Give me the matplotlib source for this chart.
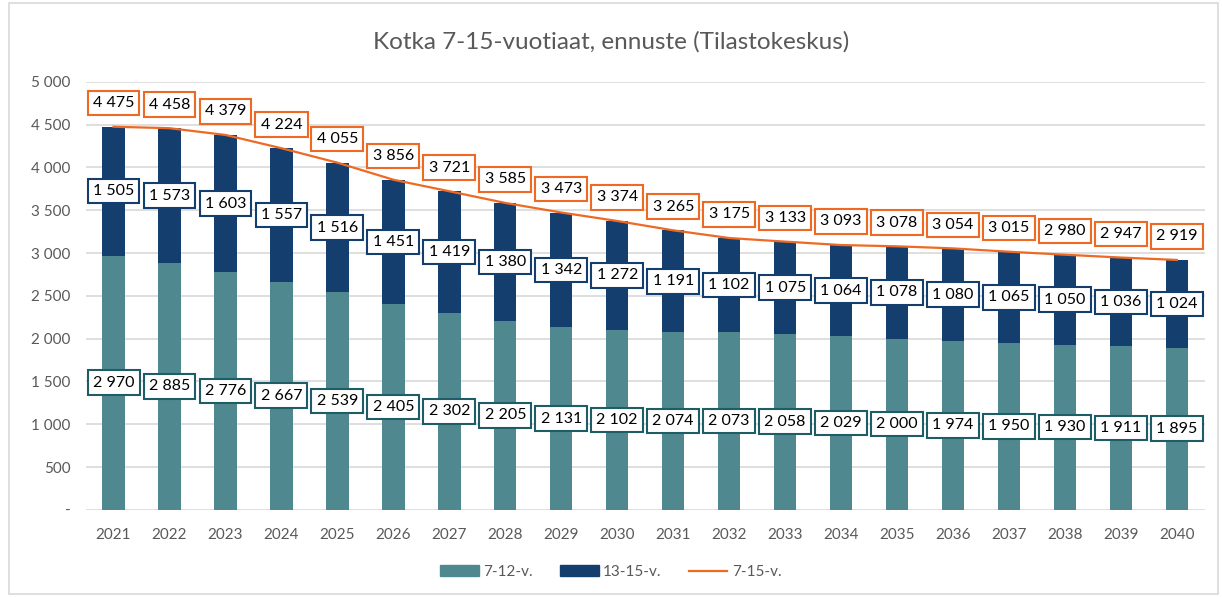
import matplotlib.pyplot as plt
from matplotlib.lines import Line2D
from matplotlib.patches import Patch, Rectangle
from matplotlib.ticker import FuncFormatter

plt.rcParams['font.family'] = ['Lato', 'DejaVu Sans']

vuodet = [str(v) for v in range(2021, 2041)]
ika_7_12 = [2970, 2885, 2776, 2667, 2539, 2405, 2302, 2205, 2131, 2102,
            2074, 2073, 2058, 2029, 2000, 1974, 1950, 1930, 1911, 1895]
ika_13_15 = [1505, 1573, 1603, 1557, 1516, 1451, 1419, 1380, 1342, 1272,
             1191, 1102, 1075, 1064, 1078, 1080, 1065, 1050, 1036, 1024]
ika_7_15 = [4475, 4458, 4379, 4224, 4055, 3856, 3721, 3585, 3473, 3374,
            3265, 3175, 3133, 3093, 3078, 3054, 3015, 2980, 2947, 2919]

teal = '#50888F'
navy = '#143E6E'
oranssi = '#EE6A24'
harmaa = '#595959'

fig = plt.figure(figsize=(12.22, 5.97), dpi=100)
ax = fig.add_axes([0.070, 0.146, 0.916, 0.717])

# reunus koko kuvan ympari
fig.patches.append(Rectangle((0.007, 0.005), 0.99, 0.99, transform=fig.transFigure,
                             fill=False, edgecolor='#d9d9d9', linewidth=1.2))

x = list(range(len(vuodet)))
ax.bar(x, ika_7_12, width=0.4, color=teal, zorder=2)
ax.bar(x, ika_13_15, width=0.4, bottom=ika_7_12, color=navy, zorder=2)
ax.plot(x, ika_7_15, color=oranssi, linewidth=1.6, zorder=3)


def fmt(v):
    return f"{v:,}".replace(',', ' ')


laatikko = dict(boxstyle='square,pad=0.33', fc='white', lw=1.5)
for i in x:
    ala = ika_7_12[i]
    yla = ika_13_15[i]
    ax.text(i, ala / 2, fmt(ala), ha='center', va='center', fontsize=11.5, zorder=5,
            bbox=dict(laatikko, ec='#1E5C66'))
    ax.text(i, ala + yla / 2, fmt(yla), ha='center', va='center', fontsize=11.5, zorder=5,
            bbox=dict(laatikko, ec=navy))
    ax.annotate(fmt(ika_7_15[i]), (i, ika_7_15[i]), xytext=(0, 17), textcoords='offset points',
                ha='center', va='center', fontsize=11.5, zorder=5,
                bbox=dict(laatikko, ec=oranssi))

ax.set_xlim(-0.5, len(vuodet) - 0.5)
ax.set_ylim(0, 5000)
ax.set_yticks(range(0, 5001, 500))
ax.yaxis.set_major_formatter(FuncFormatter(lambda v, p: '-' if v == 0 else fmt(int(v))))
ax.set_xticks(x)
ax.set_xticklabels(vuodet)
ax.tick_params(axis='both', length=0, labelsize=11, labelcolor=harmaa)
ax.tick_params(axis='y', pad=11)
ax.tick_params(axis='x', pad=13)
ax.grid(axis='y', color='#d9d9d9', linewidth=1.2, zorder=0)
ax.set_axisbelow(True)
for s in ax.spines.values():
    s.set_visible(False)

fig.text(0.5, 0.93, 'Kotka 7-15-vuotiaat, ennuste (Tilastokeskus)', ha='center', va='center',
         fontsize=17.5, color=harmaa)

kahvat = [Patch(color=teal, label='7-12-v.'),
          Patch(color=navy, label='13-15-v.'),
          Line2D([], [], color=oranssi, linewidth=1.6, label='7-15-v.')]
fig.legend(handles=kahvat, loc='center', bbox_to_anchor=(0.5, 0.042), ncol=3, frameon=False,
           fontsize=11, labelcolor=harmaa, handlelength=2.5, handleheight=0.7,
           columnspacing=1.8, handletextpad=0.3)

fig.savefig('out.png', dpi=100)
